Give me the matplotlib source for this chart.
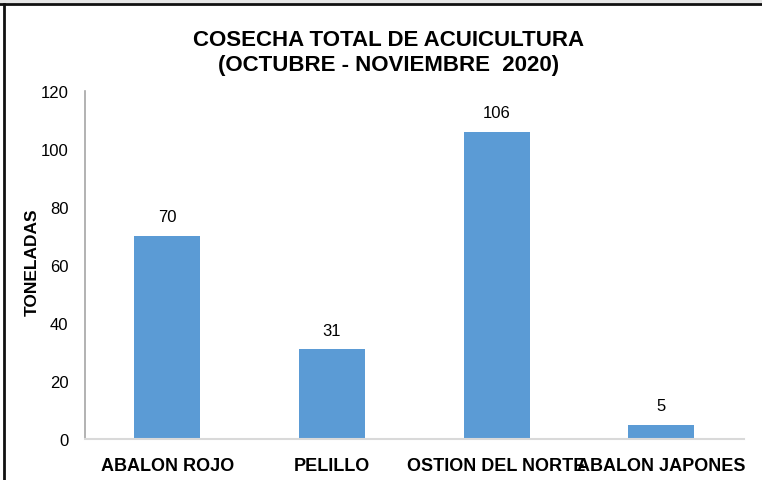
import matplotlib
matplotlib.use("Agg")
import matplotlib.pyplot as plt
from matplotlib.patches import Rectangle
from matplotlib.lines import Line2D

plt.rcParams['font.family'] = ['Liberation Sans', 'DejaVu Sans']

# data
especies = ["ABALON ROJO", "PELILLO", "OSTION DEL NORTE", "ABALON JAPONES"]
toneladas = [70, 31, 106, 5]
y_ticks = [0, 20, 40, 60, 80, 100, 120]

fig = plt.figure(figsize=(7.62, 4.81), dpi=100)
ax = fig.add_axes([0.1115, 0.0852, 0.8645, 0.7235])

x = range(len(especies))
bars = ax.bar(x, toneladas, width=0.40, color='#5B9BD5', zorder=2)
for b, v in zip(bars, toneladas):
    ax.text(b.get_x() + b.get_width() / 2, v + 4, str(v),
            ha='center', va='bottom', fontsize=12, color='#000000')

ax.set_xlim(-0.5, len(especies) - 0.5)
ax.set_ylim(0, 120)
ax.set_yticks(y_ticks)
ax.set_yticklabels([str(t) for t in y_ticks], fontsize=12)
ax.set_xticks(list(x))
ax.set_xticklabels(especies, fontsize=13, fontweight='bold')
ax.tick_params(axis='y', length=0, pad=12)
ax.tick_params(axis='x', length=0, pad=13)

for s in ['top', 'right']:
    ax.spines[s].set_visible(False)
ax.spines['left'].set_color('#a6a6a6')
ax.spines['left'].set_linewidth(1.2)
ax.spines['bottom'].set_color('#d9d9d9')
ax.spines['bottom'].set_linewidth(1.5)

ax.set_ylabel("TONELADAS", fontsize=12.5, fontweight='bold')
ax.yaxis.set_label_coords(-0.069, 0.51)

fig.text(0.51, 0.915, "COSECHA TOTAL DE ACUICULTURA", ha='center', va='center',
         fontsize=16, fontweight='bold')
fig.text(0.51, 0.864, "(OCTUBRE - NOVIEMBRE  2020)", ha='center', va='center',
         fontsize=16, fontweight='bold')

# frame of the original screenshot (top and left only)
fig.patches.append(Rectangle((0, 1 - 4 / 481), 1, 4 / 481, transform=fig.transFigure,
                             facecolor='#e6e6e6', edgecolor='none'))
fig.lines.append(Line2D([0, 1], [1 - 5 / 481, 1 - 5 / 481], transform=fig.transFigure,
                        color='#111111', linewidth=2))
fig.lines.append(Line2D([4 / 762, 4 / 762], [0, 1 - 5 / 481], transform=fig.transFigure,
                        color='#111111', linewidth=2))

fig.savefig("out.png", dpi=100)
